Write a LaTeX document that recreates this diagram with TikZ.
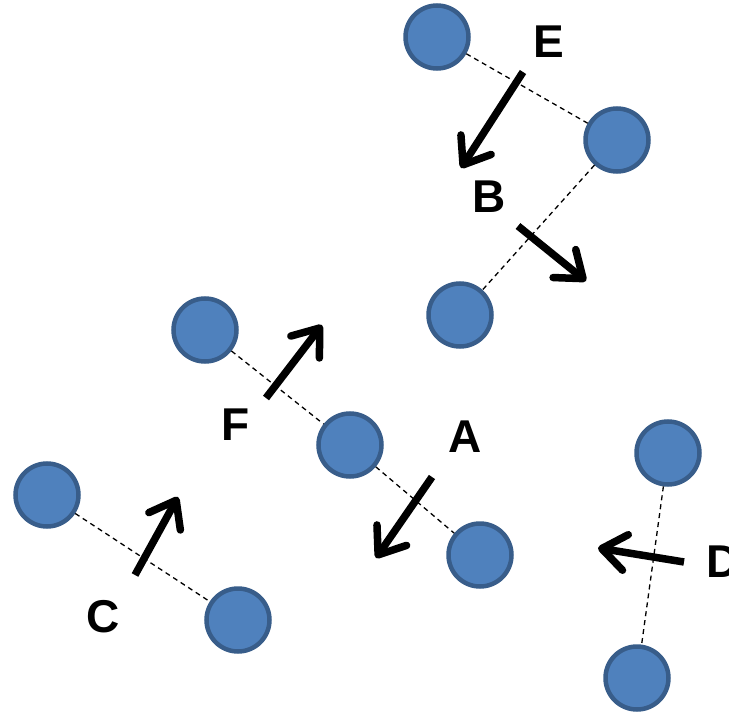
\documentclass[tikz,border=0pt]{standalone}
\usepackage{fontspec}
\setmainfont{Liberation Sans}
\usetikzlibrary{arrows.meta}
\definecolor{ballfill}{HTML}{4F81BD}
\definecolor{ballline}{HTML}{385D8A}
\tikzset{
  ball/.style={circle,draw=ballline,fill=ballfill,line width=4.5pt,minimum size=63pt,inner sep=0pt},
  lbl/.style={font=\fontsize{46}{46}\selectfont\bfseries,inner sep=0pt},
  move/.style={line width=7.5pt,-{Straight Barb[length=24pt,width=36pt,round]}},
  bond/.style={dash pattern=on 5pt off 4pt,line width=1.3pt}
}
\begin{document}
\begin{tikzpicture}[x=1pt,y=-1pt]
      \useasboundingbox (0,0) rectangle (729,717);
      \draw
        (437,37) node[ball] (p1){}
        (617,140) node[ball] (p2){}
        (460,315) node[ball] (p3){}
        (205,330) node[ball] (p4){}
        (350,445) node[ball] (p5){}
        (480,555) node[ball] (p6){}
        (668,453) node[ball] (p7){}
        (637,678) node[ball] (p8){}
        (47,495) node[ball] (p9){}
        (238,620) node[ball] (p10){};
      \begin{scope}[bond]
        \draw (p1) to (p2);
        \draw (p2) to (p3);
        \draw (p4) to (p5);
        \draw (p5) to (p6);
        \draw (p7) to (p8);
        \draw (p9) to (p10);
      \end{scope}
      \draw
        (549,42) node[lbl] (lE){E}
        (489,197) node[lbl] (lB){B}
        (236,425) node[lbl] (lF){F}
        (465,437) node[lbl] (lA){A}
        (103,617) node[lbl] (lC){C}
        (706,562) node[lbl,anchor=west] (lD){D};
      \coordinate (sE) at (523,72);  \coordinate (eE) at (461,168);
      \coordinate (sB) at (518,226); \coordinate (eB) at (586,281);
      \coordinate (sF) at (266,398); \coordinate (eF) at (322,325);
      \coordinate (sA) at (432,477); \coordinate (eA) at (376,558);
      \coordinate (sC) at (135,575); \coordinate (eC) at (178,497);
      \coordinate (sD) at (684,562); \coordinate (eD) at (598,548);
      \begin{scope}[move]
        \draw (sE) to (eE);
        \draw (sB) to (eB);
        \draw (sF) to (eF);
        \draw (sA) to (eA);
        \draw (sC) to (eC);
        \draw (sD) to (eD);
      \end{scope}
    \end{tikzpicture}
\end{document}
